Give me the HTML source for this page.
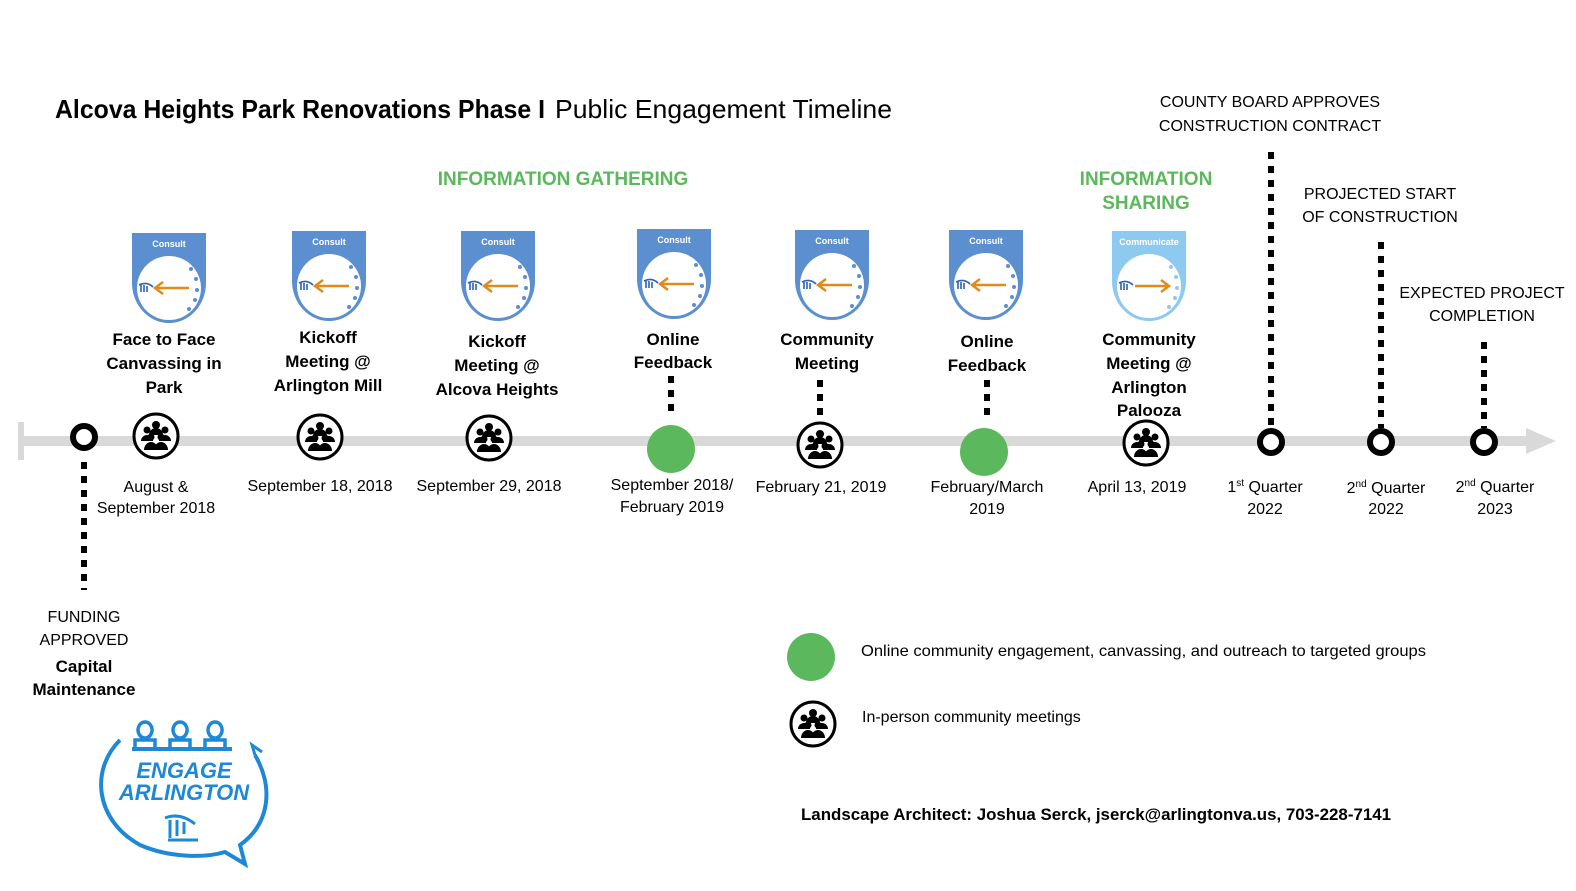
<!DOCTYPE html>
<html><head><meta charset="utf-8"><style>
body{margin:0;background:#fff}
svg text{font-family:"Liberation Sans",sans-serif}
</style></head><body>
<svg width="1576" height="886" viewBox="0 0 1576 886" xmlns="http://www.w3.org/2000/svg">
<defs>
<g id="ppl">
<circle r="22" fill="#fff" stroke="#000" stroke-width="3"/>
<circle cx="-9" cy="-6" r="3.5" fill="#000"/><circle cx="9" cy="-6" r="3.5" fill="#000"/>
<circle cx="0" cy="-11" r="4" fill="#000"/>
<path d="M-15,5 a6,6 0 0 1 12,0 z M3,5 a6,6 0 0 1 12,0 z M-7,-1 a7,7 0 0 1 14,0 z" fill="#000"/>
<circle cx="-5" cy="1" r="3.5" fill="#000"/><circle cx="5" cy="1" r="3.5" fill="#000"/>
<path d="M-12,14 a7,8 0 0 1 14,0 z M-2,14 a7,8 0 0 1 14,0 z" fill="#000"/>
</g>
<g id="consult">
<path d="M-37,0 H37 V50 A37,40 0 0 1 -37,50 Z" fill="#5b8fcf"/>
<circle cx="0" cy="55" r="32" fill="#fff"/>
<text x="0" y="14" font-size="9" font-weight="bold" fill="#fff" text-anchor="middle">Consult</text>
<g fill="#5b8fcf"><circle cx="22" cy="36" r="2"/><circle cx="27" cy="46" r="2"/><circle cx="28" cy="57" r="2"/><circle cx="26" cy="67" r="2"/><circle cx="20" cy="76" r="2"/></g>
<path d="M20,55 H-14 M-6,49 L-14,55 L-6,61" stroke="#e28a1c" stroke-width="2.5" fill="none"/>
<path d="M-30,52 q8,-4 14,2 M-28,52 v7 M-25,52 v7 M-22,53 v6" stroke="#2c62b0" stroke-width="1.6" fill="none"/>
</g>
</defs>

<text x="55" y="118" font-size="26" font-weight="bold" fill="#000" textLength="490" lengthAdjust="spacingAndGlyphs">Alcova Heights Park Renovations Phase I</text>
<text x="555" y="118" font-size="26" fill="#000" textLength="337" lengthAdjust="spacingAndGlyphs">Public Engagement Timeline</text>

<g font-size="19" font-weight="bold" fill="#5cb85c" text-anchor="middle">
<text x="563" y="185">INFORMATION GATHERING</text>
<text x="1146" y="185">INFORMATION</text>
<text x="1146" y="209">SHARING</text>
</g>

<g font-size="16" fill="#000" text-anchor="middle">
<text x="1270" y="107">COUNTY BOARD APPROVES</text>
<text x="1270" y="131">CONSTRUCTION CONTRACT</text>
<text x="1380" y="199">PROJECTED START</text>
<text x="1380" y="222">OF CONSTRUCTION</text>
<text x="1482" y="298">EXPECTED PROJECT</text>
<text x="1482" y="321">COMPLETION</text>
<text x="84" y="622">FUNDING</text>
<text x="84" y="645">APPROVED</text>
</g>
<g font-size="17" font-weight="bold" fill="#000" text-anchor="middle">
<text x="84" y="672">Capital</text>
<text x="84" y="695">Maintenance</text>
</g>

<rect x="20" y="436" width="1510" height="10" fill="#d9d9d9"/>
<rect x="18" y="422" width="6" height="38" fill="#d9d9d9"/>
<path d="M1526,428 L1556,441 L1526,454 Z" fill="#d9d9d9"/>

<g stroke="#000" stroke-width="6" stroke-dasharray="7,7" fill="none">
<line x1="84" y1="462" x2="84" y2="590"/>
<line x1="671" y1="376" x2="671" y2="414"/>
<line x1="820" y1="380" x2="820" y2="418"/>
<line x1="987" y1="380" x2="987" y2="418"/>
<line x1="1271" y1="152" x2="1271" y2="428"/>
<line x1="1381" y1="242" x2="1381" y2="428"/>
<line x1="1484" y1="342" x2="1484" y2="428"/>
</g>

<g fill="#fff" stroke="#000" stroke-width="6">
<circle cx="84" cy="437" r="11"/>
<circle cx="1271" cy="442" r="11"/>
<circle cx="1381" cy="442" r="11"/>
<circle cx="1484" cy="442" r="11"/>
</g>
<circle cx="671" cy="449" r="24" fill="#5cb85c"/>
<circle cx="984" cy="452" r="24" fill="#5cb85c"/>
<use href="#ppl" x="156" y="436"/>
<use href="#ppl" x="320" y="437"/>
<use href="#ppl" x="489" y="438"/>
<use href="#ppl" x="820" y="445"/>
<use href="#ppl" x="1146" y="443"/>

<use href="#consult" x="169" y="233"/>
<use href="#consult" x="329" y="231"/>
<use href="#consult" x="498" y="231"/>
<use href="#consult" x="674" y="229"/>
<use href="#consult" x="832" y="230"/>
<use href="#consult" x="986" y="230"/>
<g transform="translate(1149,231)">
<path d="M-37,0 H37 V50 A37,40 0 0 1 -37,50 Z" fill="#8ec9f0"/>
<circle cx="0" cy="55" r="32" fill="#fff"/>
<text x="0" y="14" font-size="9" font-weight="bold" fill="#fff" text-anchor="middle">Communicate</text>
<g fill="#8ec9f0"><circle cx="22" cy="36" r="2"/><circle cx="27" cy="46" r="2"/><circle cx="28" cy="57" r="2"/><circle cx="26" cy="67" r="2"/><circle cx="20" cy="76" r="2"/></g>
<path d="M-14,55 H20 M12,49 L20,55 L12,61" stroke="#e28a1c" stroke-width="2.5" fill="none"/>
<path d="M-30,52 q8,-4 14,2 M-28,52 v7 M-25,52 v7 M-22,53 v6" stroke="#2c62b0" stroke-width="1.6" fill="none"/>
</g>

<g font-size="17" font-weight="bold" fill="#000" text-anchor="middle">
<text x="164" y="345">Face to Face</text><text x="164" y="369">Canvassing in</text><text x="164" y="393">Park</text>
<text x="328" y="343">Kickoff</text><text x="328" y="367">Meeting @</text><text x="328" y="391">Arlington Mill</text>
<text x="497" y="347">Kickoff</text><text x="497" y="371">Meeting @</text><text x="497" y="395">Alcova Heights</text>
<text x="673" y="345">Online</text><text x="673" y="368">Feedback</text>
<text x="827" y="345">Community</text><text x="827" y="369">Meeting</text>
<text x="987" y="347">Online</text><text x="987" y="371">Feedback</text>
<text x="1149" y="345">Community</text><text x="1149" y="369">Meeting @</text><text x="1149" y="393">Arlington</text><text x="1149" y="416">Palooza</text>
</g>

<g font-size="16" fill="#000" text-anchor="middle">
<text x="156" y="492">August &amp;</text><text x="156" y="513">September 2018</text>
<text x="320" y="491">September 18, 2018</text>
<text x="489" y="491">September 29, 2018</text>
<text x="672" y="490">September 2018/</text><text x="672" y="512">February 2019</text>
<text x="821" y="492">February 21, 2019</text>
<text x="987" y="492">February/March</text><text x="987" y="514">2019</text>
<text x="1137" y="492">April 13, 2019</text>
<text x="1265" y="492">1<tspan font-size="10" dy="-6">st</tspan><tspan dy="6"> Quarter</tspan></text><text x="1265" y="514">2022</text>
<text x="1386" y="493">2<tspan font-size="10" dy="-6">nd</tspan><tspan dy="6"> Quarter</tspan></text><text x="1386" y="514">2022</text>
<text x="1495" y="492">2<tspan font-size="10" dy="-6">nd</tspan><tspan dy="6"> Quarter</tspan></text><text x="1495" y="514">2023</text>
</g>

<circle cx="811" cy="657" r="24" fill="#5cb85c"/>
<use href="#ppl" x="813" y="724"/>
<g font-size="16" fill="#000">
<text x="861" y="656" textLength="565" lengthAdjust="spacingAndGlyphs">Online community engagement, canvassing, and outreach to targeted groups</text>
<text x="862" y="722">In-person community meetings</text>
</g>
<text x="801" y="820" font-size="17" font-weight="bold" fill="#000" textLength="590" lengthAdjust="spacingAndGlyphs">Landscape Architect: Joshua Serck, jserck@arlingtonva.us, 703-228-7141</text>

<g stroke="#1e88d8" fill="none" stroke-width="4">
<path d="M120,740 C90,770 95,820 140,845 C170,858 205,858 225,852 L245,864 L240,845 C268,825 275,790 255,755"/>
<path d="M255,755 L252,745 L262,752" stroke-width="3"/>
<path d="M135,748 v-8 h20 v8 M145,738 a7,8 0 1 1 0.1,0" stroke-width="3.5"/>
<path d="M170,748 v-8 h20 v8 M180,738 a7,8 0 1 1 0.1,0" stroke-width="3.5"/>
<path d="M205,748 v-8 h20 v8 M215,738 a7,8 0 1 1 0.1,0" stroke-width="3.5"/>
<path d="M132,749 h100"/>
<path d="M165,818 q15,-6 30,6 M170,820 v18 M177,820 v16 M184,822 v12 M168,840 h30" stroke-width="3"/>
</g>
<g font-size="22" font-weight="bold" font-style="italic" fill="#1e88d8" text-anchor="middle">
<text x="184" y="778">ENGAGE</text>
<text x="184" y="800">ARLINGTON</text>
</g>
</svg>
</body></html>
